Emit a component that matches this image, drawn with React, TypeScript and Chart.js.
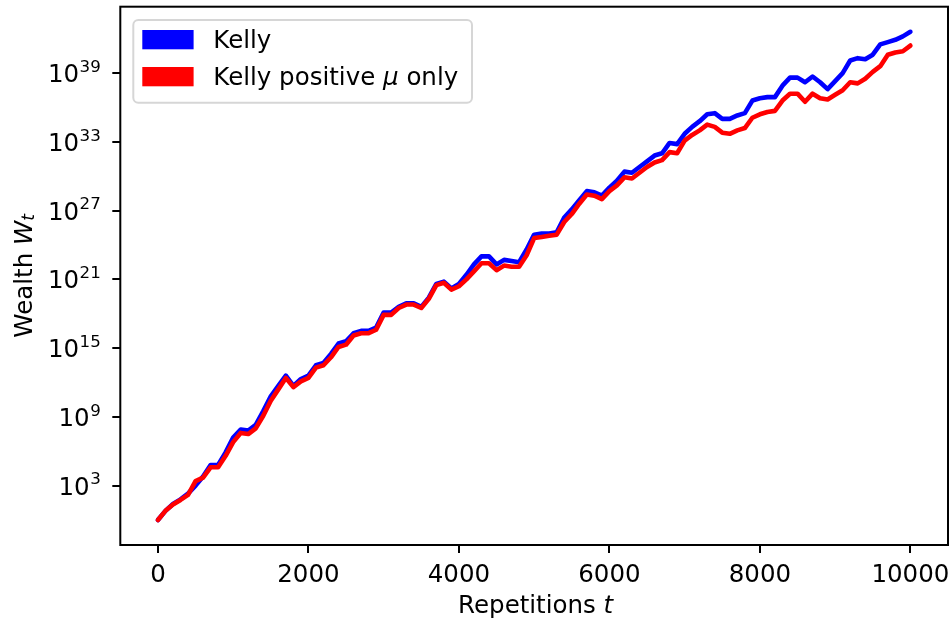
import React, { useEffect, useRef } from 'react';
import { Chart, registerables } from 'chart.js';

Chart.register(...registerables);

// Repetitions t (x values)
const repetitions = [
  0, 100, 200, 300, 400, 500, 600, 700, 800, 900,
  1000, 1100, 1200, 1300, 1400, 1500, 1600, 1700, 1800, 1900,
  2000, 2100, 2200, 2300, 2400, 2500, 2600, 2700, 2800, 2900,
  3000, 3100, 3200, 3300, 3400, 3500, 3600, 3700, 3800, 3900,
  4000, 4100, 4200, 4300, 4400, 4500, 4600, 4700, 4800, 4900,
  5000, 5100, 5200, 5300, 5400, 5500, 5600, 5700, 5800, 5900,
  6000, 6100, 6200, 6300, 6400, 6500, 6600, 6700, 6800, 6900,
  7000, 7100, 7200, 7300, 7400, 7500, 7600, 7700, 7800, 7900,
  8000, 8100, 8200, 8300, 8400, 8500, 8600, 8700, 8800, 8900,
  9000, 9100, 9200, 9300, 9400, 9500, 9600, 9700, 9800, 9900,
  10000,
];

// log10 of wealth, "Kelly"
const kellyLog10 = [
  0.0, 0.8, 1.4, 1.8, 2.3, 3.0, 3.8, 4.8, 4.8, 5.9,
  7.2, 7.9, 7.8, 8.3, 9.5, 10.8, 11.7, 12.6, 11.7, 12.3,
  12.6, 13.5, 13.7, 14.5, 15.4, 15.6, 16.3, 16.5, 16.5, 16.8,
  18.1, 18.1, 18.6, 18.9, 18.9, 18.6, 19.4, 20.6, 20.8, 20.2,
  20.6, 21.4, 22.3, 23.0, 23.0, 22.3, 22.7, 22.6, 22.5, 23.6,
  24.9, 25.0, 25.0, 25.1, 26.4, 27.1, 27.9, 28.7, 28.6, 28.3,
  29.0, 29.6, 30.4, 30.3, 30.8, 31.3, 31.8, 32.0, 32.9, 32.8,
  33.7, 34.3, 34.8, 35.4, 35.5, 35.0, 35.0, 35.3, 35.5, 36.6,
  36.8, 36.9, 36.9, 37.9, 38.6, 38.6, 38.2, 38.7, 38.2, 37.6,
  38.3, 39.0, 40.1, 40.3, 40.2, 40.6, 41.5, 41.7, 41.9, 42.2,
  42.6,
];

// log10 of wealth, "Kelly positive mu only"
const positiveMuLog10 = [
  0.0, 0.8, 1.35, 1.75, 2.2, 3.4, 3.7, 4.6, 4.6, 5.6,
  6.8, 7.6, 7.5, 8.0, 9.1, 10.4, 11.4, 12.4, 11.6, 12.1,
  12.4, 13.3, 13.5, 14.2, 15.1, 15.3, 16.1, 16.3, 16.3, 16.6,
  17.9, 17.9, 18.5, 18.8, 18.8, 18.5, 19.3, 20.5, 20.7, 20.1,
  20.4, 21.0, 21.7, 22.4, 22.4, 21.8, 22.2, 22.1, 22.1, 23.1,
  24.6, 24.7, 24.8, 24.9, 26.0, 26.7, 27.6, 28.4, 28.3, 28.0,
  28.7, 29.2, 29.9, 29.8, 30.3, 30.8, 31.2, 31.4, 32.1, 32.0,
  33.1, 33.6, 34.0, 34.5, 34.3, 33.8, 33.7, 34.0, 34.2, 35.1,
  35.4, 35.6, 35.7, 36.6, 37.2, 37.2, 36.5, 37.2, 36.8, 36.7,
  37.1, 37.5, 38.2, 38.1, 38.5, 39.1, 39.6, 40.6, 40.8, 40.9,
  41.4,
];

const xTickValues = [0, 2000, 4000, 6000, 8000, 10000];
const yTickExponents = [3, 9, 15, 21, 27, 33, 39];

const seriesNames = ['Kelly', 'Kelly positive ', '\u03bc', ' only'];
const seriesColors = ['#0000ff', '#ff0000'];

const FONT = '"DejaVu Sans", sans-serif';
const FS = 24.5;

const overlayPlugin = {
  id: 'overlay',
  afterDraw(chart: any) {
    const { ctx, chartArea } = chart;
    const xs = chart.scales.x;
    const ys = chart.scales.y;
    ctx.save();
    ctx.fillStyle = '#000';
    ctx.textBaseline = 'alphabetic';

    // frame
    ctx.strokeStyle = '#000';
    ctx.lineWidth = 2;
    ctx.strokeRect(chartArea.left, chartArea.top, chartArea.right - chartArea.left, chartArea.bottom - chartArea.top);

    // x tick labels
    ctx.font = `${FS}px ${FONT}`;
    ctx.textAlign = 'center';
    for (const v of xTickValues) {
      const px = xs.getPixelForValue(v);
      ctx.fillText(String(v), px, chartArea.bottom + 36.7);
    }

    // y tick labels 10^e
    ctx.textAlign = 'left';
    const rightX = 100.8;
    for (const e of yTickExponents) {
      const py = ys.getPixelForValue(Math.pow(10, e));
      ctx.font = `${FS * 0.68}px ${FONT}`;
      const expStr = String(e);
      const wExp = ctx.measureText(expStr).width;
      ctx.fillText(expStr, rightX - wExp, py - 1.3);
      ctx.font = `${FS}px ${FONT}`;
      const wBase = ctx.measureText('10').width;
      ctx.fillText('10', rightX - wExp - wBase - 0.5, py + 9);
    }

    // x axis title
    {
      const cx = (chartArea.left + chartArea.right) / 2 + 1.5;
      const by = 613.3;
      ctx.font = `${FS}px ${FONT}`;
      const a = 'Repetitions ';
      const wa = ctx.measureText(a).width;
      ctx.font = `italic ${FS}px ${FONT}`;
      const wb = ctx.measureText('t').width;
      const start = cx - (wa + wb) / 2;
      ctx.font = `${FS}px ${FONT}`;
      ctx.fillText(a, start, by);
      ctx.font = `italic ${FS}px ${FONT}`;
      ctx.fillText('t', start + wa, by);
    }

    // y axis title
    {
      const cy = (chartArea.top + chartArea.bottom) / 2;
      ctx.save();
      ctx.translate(31.6, cy);
      ctx.rotate(-Math.PI / 2);
      ctx.font = `${FS}px ${FONT}`;
      const a = 'Wealth ';
      const wa = ctx.measureText(a).width;
      ctx.font = `italic ${FS}px ${FONT}`;
      const wb = ctx.measureText('W').width;
      ctx.font = `italic ${FS * 0.7}px ${FONT}`;
      const wc = ctx.measureText('t').width;
      const start = -(wa + wb + wc) / 2;
      ctx.font = `${FS}px ${FONT}`;
      ctx.fillText(a, start, 0);
      ctx.font = `italic ${FS}px ${FONT}`;
      ctx.fillText('W', start + wa, 0);
      ctx.font = `italic ${FS * 0.7}px ${FONT}`;
      ctx.fillText('t', start + wa + wb, 2.5);
      ctx.restore();
    }

    // legend
    {
      const lx = chartArea.left + 13;
      const ly = chartArea.top + 13.3;
      const lw = 338.7;
      const lh = 82.7;
      ctx.beginPath();
      ctx.roundRect(lx, ly, lw, lh, 5);
      ctx.fillStyle = 'rgba(255,255,255,0.8)';
      ctx.fill();
      ctx.strokeStyle = '#d6d6d6';
      ctx.lineWidth = 2;
      ctx.stroke();

      const px = lx + 9;
      ctx.fillStyle = seriesColors[0];
      ctx.fillRect(px, ly + 10, 51.3, 19.3);
      ctx.fillStyle = seriesColors[1];
      ctx.fillRect(px, ly + 47, 51.3, 19.3);

      ctx.fillStyle = '#000';
      const tx = lx + 80;
      ctx.font = `${FS}px ${FONT}`;
      ctx.fillText(seriesNames[0], tx, ly + 28.4);
      const b2 = ly + 65;
      ctx.fillText(seriesNames[1], tx, b2);
      const w1 = ctx.measureText(seriesNames[1]).width;
      ctx.font = `italic ${FS}px ${FONT}`;
      ctx.fillText(seriesNames[2], tx + w1, b2);
      const w2 = ctx.measureText(seriesNames[2]).width;
      ctx.font = `${FS}px ${FONT}`;
      ctx.fillText(seriesNames[3], tx + w1 + w2, b2);
    }
    ctx.restore();
  },
};

export default function App() {
  const ref = useRef<HTMLCanvasElement | null>(null);

  useEffect(() => {
    if (!ref.current) return;
    const kellyData = repetitions.map((t, i) => ({ x: t, y: Math.pow(10, kellyLog10[i]) }));
    const posData = repetitions.map((t, i) => ({ x: t, y: Math.pow(10, positiveMuLog10[i]) }));
    const chart = new Chart(ref.current, {
      type: 'line',
      data: {
        datasets: [
          {
            label: 'Kelly',
            data: kellyData,
            borderColor: seriesColors[0],
            backgroundColor: seriesColors[0],
            borderWidth: 4.6,
            pointRadius: 0,
            tension: 0,
            borderJoinStyle: 'round',
            borderCapStyle: 'round',
            order: 1,
          },
          {
            label: 'Kelly positive \u03bc only',
            data: posData,
            borderColor: seriesColors[1],
            backgroundColor: seriesColors[1],
            borderWidth: 4.6,
            pointRadius: 0,
            tension: 0,
            borderJoinStyle: 'round',
            borderCapStyle: 'round',
            order: 0,
          },
        ],
      },
      options: {
        animation: false,
        responsive: false,
        maintainAspectRatio: false,
        layout: { padding: { top: 6.7, right: 3, left: 0, bottom: 0 } },
        plugins: { legend: { display: false }, tooltip: { enabled: false } },
        scales: {
          x: {
            type: 'linear',
            min: -500,
            max: 10500,
            afterBuildTicks: (s: any) => {
              s.ticks = xTickValues.map((v) => ({ value: v }));
            },
            afterFit: (s: any) => {
              s.height = 76;
            },
            ticks: { display: false },
            grid: { display: true, drawOnChartArea: false, drawTicks: true, tickLength: 8, color: '#000', lineWidth: 2 },
            border: { display: false },
          },
          y: {
            type: 'logarithmic',
            min: Math.pow(10, -2.18),
            max: Math.pow(10, 44.79),
            afterBuildTicks: (s: any) => {
              s.ticks = yTickExponents.map((e) => ({ value: Math.pow(10, e) }));
            },
            afterFit: (s: any) => {
              s.width = 120.3;
            },
            ticks: { display: false },
            grid: { display: true, drawOnChartArea: false, drawTicks: true, tickLength: 8, color: '#000', lineWidth: 2 },
            border: { display: false },
          },
        },
      },
      plugins: [overlayPlugin],
    } as any);
    return () => chart.destroy();
  }, []);

  return (
    <div style={{ position: 'absolute', left: 0, top: 0, width: 951, height: 621, background: '#fff' }}>
      <canvas ref={ref} width={951} height={621} style={{ display: 'block' }} />
    </div>
  );
}
